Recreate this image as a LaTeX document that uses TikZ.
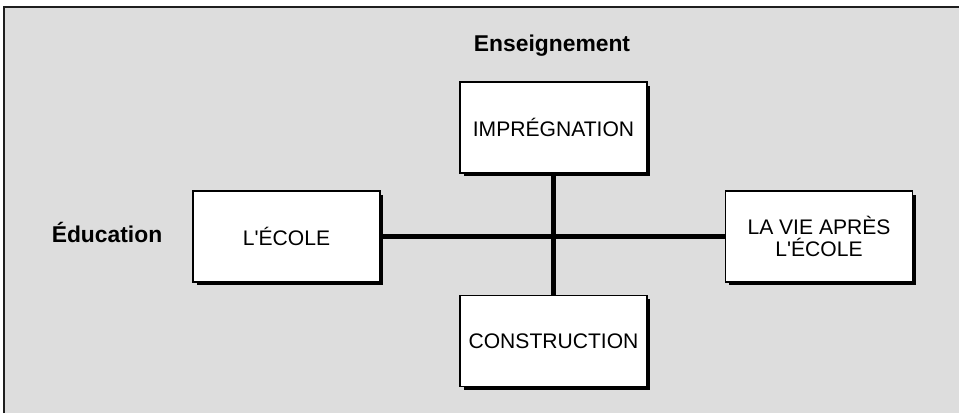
\documentclass[tikz,border=0pt]{standalone}
\usepackage{fontspec}
\setmainfont{Liberation Sans}
\usetikzlibrary{shadows}
\newlength{\stageboxwidth}
\newlength{\stageboxheight}
\newlength{\linkwidth}
\setlength{\stageboxwidth}{3.74cm}
\setlength{\stageboxheight}{1.82cm}
\setlength{\linkwidth}{2.3pt}
\definecolor{panelcolor}{RGB}{221,221,221}
\definecolor{framecolor}{RGB}{30,30,30}
\newcommand{\apos}{\textquotesingle}
\tikzstyle{stagebox} = [draw, fill=white, line width=1.1pt, minimum width=\stageboxwidth, minimum height=\stageboxheight, align=center, font=\fontsize{12pt}{12.6pt}\selectfont, drop shadow={shadow xshift=0.07cm, shadow yshift=-0.07cm, fill=black, opacity=1}]
\tikzstyle{axislabel} = [font=\bfseries\fontsize{13pt}{15pt}\selectfont]
\tikzstyle{link} = [draw, line width=\linkwidth]

\begin{document}
\begin{tikzpicture}[x=0.02cm, y=-0.02cm]
		\useasboundingbox (0,0) rectangle (959,413);
		
		% panel and its frame
		\fill[panelcolor] (4,7) rectangle (959,413);
		\draw[framecolor, line width=1.1pt] (4,413) -- (4,7) -- (959,7);
		
		\node[axislabel] (enseignement) at (552,46) {Enseignement};
		\node[axislabel] (education) at (107,232) {Éducation};
		
		\node[stagebox] (impregnation) at (553.5,127.5) {IMPRÉGNATION};
		\node[stagebox] (ecole) at (286.5,236.5) {L\apos ÉCOLE};
		\node[stagebox] (apresecole) at (819,236.5) {LA VIE APRÈS\\L\apos ÉCOLE};
		\node[stagebox] (construction) at (553.5,341) {CONSTRUCTION};
		
		\draw[link] (ecole) -- (apresecole);
		\draw[link] (impregnation) -- (construction);
		
	\end{tikzpicture}
\end{document}
